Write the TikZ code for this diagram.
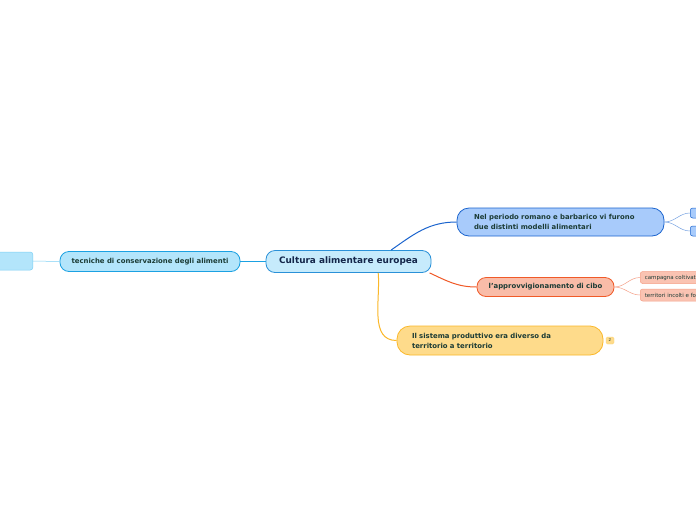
\documentclass[tikz,border=0pt]{standalone}
\usepackage{fontspec}
\setmainfont{DejaVu Sans}
\usepackage{xcolor}
\usetikzlibrary{positioning}

\definecolor{centfill}{HTML}{C6EBFC}
\definecolor{centline}{HTML}{2A91D8}
\definecolor{romfill}{HTML}{A8CBFB}
\definecolor{romline}{HTML}{1B64CE}
\definecolor{apfill}{HTML}{F9BCA8}
\definecolor{apline}{HTML}{F05A28}
\definecolor{apsubfill}{HTML}{FAC3B2}
\definecolor{apsubline}{HTML}{F5A088}
\definecolor{sisfill}{HTML}{FEDB8B}
\definecolor{sisline}{HTML}{FBB829}
\definecolor{tecfill}{HTML}{B3E5FB}
\definecolor{tecline}{HTML}{1BA1E2}
\definecolor{tecsubline}{HTML}{7DD0F5}
\definecolor{navytext}{HTML}{14264A}
\definecolor{darktext}{HTML}{1B3B35}

\tikzset{
  topic/.style={rounded corners=9pt, line width=0.8pt, inner sep=0pt,
    font=\fontsize{6.9}{10}\selectfont\bfseries, text=darktext},
  subtopic/.style={rounded corners=2.5pt, line width=0.5pt, inner sep=0pt,
    font=\fontsize{5.5}{6}\selectfont, text=darktext, anchor=west, text depth=0pt},
}

\begin{document}
\begin{tikzpicture}[x=1pt,y=-1pt]
\clip (0,0) rectangle (696,520);
\fill[white] (0,0) rectangle (696,520);

% central topic
\node[topic, draw=centline, fill=centfill, text=navytext,
  minimum width=165pt, minimum height=22pt,
  font=\fontsize{8.9}{9}\selectfont\bfseries] (cultura) at (348.5,261.5) {Cultura alimentare europea};

% main topics
\node[topic, draw=romline, fill=romfill, rounded corners=12pt,
  inner xsep=17pt, minimum height=28pt, text width=173pt, align=left]
  (romano) at (560.5,222) {Nel periodo romano e barbarico vi furono\\due distinti modelli alimentari};
\node[topic, draw=apline, fill=apfill, minimum width=137pt, minimum height=19pt]
  (approvv) at (545.5,287) {l'approvvigionamento di cibo};
\node[topic, draw=sisline, fill=sisfill, rounded corners=13pt,
  inner xsep=15pt, minimum height=29pt, text width=176pt, align=left]
  (sistema) at (500,340.5) {Il sistema produttivo era diverso da\\territorio a territorio};
\node[topic, draw=tecline, fill=tecfill, minimum width=180pt, minimum height=20pt]
  (tecniche) at (150,261.5) {tecniche di conservazione degli alimenti};

% sub topics
\node[subtopic, draw=romline, fill=romfill, minimum width=30pt, minimum height=10pt] (romuno) at (690,213) {};
\node[subtopic, draw=romline, fill=romfill, minimum width=30pt, minimum height=10pt] (romdue) at (690,231) {};
\node[subtopic, draw=apsubline, fill=apsubfill, minimum height=12pt, inner xsep=4.5pt]
  (campagna) at (640,277.5) {campagna coltivata};
\node[subtopic, draw=apsubline, fill=apsubfill, minimum height=12pt, inner xsep=4.5pt]
  (territori) at (640,295) {territori incolti e foreste};
\node[subtopic, draw=tecsubline, fill=tecfill, anchor=east, minimum width=70pt, minimum height=18pt]
  (conserva) at (33,261) {};

% badge
\node[draw=sisfill!80!sisline, fill=sisfill, rounded corners=1.5pt, inner sep=0pt,
  minimum width=8pt, minimum height=7pt, font=\fontsize{4}{4}\selectfont, text=darktext]
  (conta) at (610,340.5) {2};

% connectors
\draw[romline, line width=1pt] (cultura.15) to[out=35,in=180] (romano.west);
\draw[apline, line width=1pt] (cultura.-8) to[out=-25,in=180] (approvv.west);
\draw[sisline, line width=1pt] (cultura.-21) to[out=-85,in=180] (sistema.west);
\draw[tecline, line width=1pt] (cultura.west) -- (tecniche.east);
\draw[romline!60, line width=0.5pt] (romano.east) to[out=0,in=180] (romuno.west);
\draw[romline!60, line width=0.5pt] (romano.east) to[out=0,in=180] (romdue.west);
\draw[apsubline, line width=0.5pt] (approvv.east) to[out=0,in=180] (campagna.west);
\draw[apsubline, line width=0.5pt] (approvv.east) to[out=0,in=180] (territori.west);
\draw[tecsubline, line width=0.5pt] (tecniche.west) -- (conserva.east);
\end{tikzpicture}
\end{document}
